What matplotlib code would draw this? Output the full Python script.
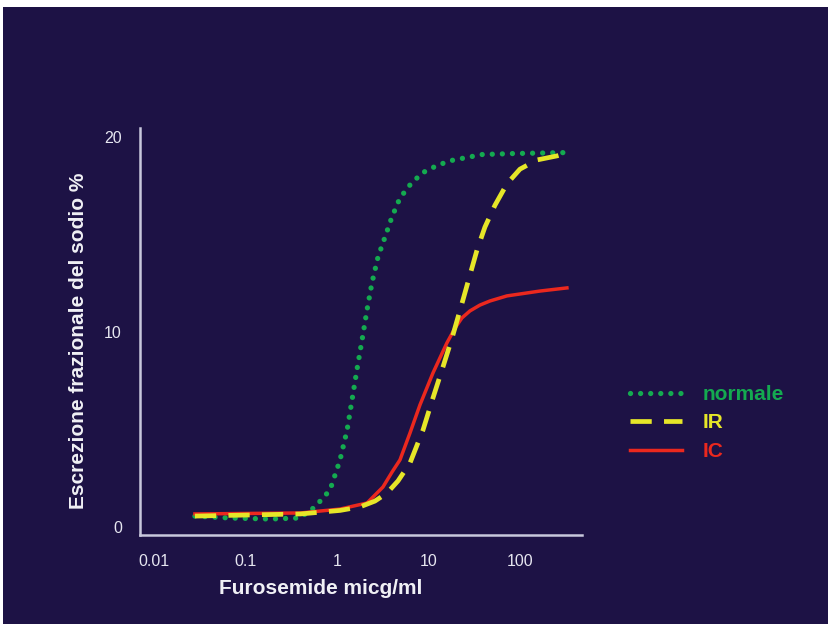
import numpy as np
import matplotlib
matplotlib.use('Agg')
import matplotlib.pyplot as plt
from matplotlib.patches import Rectangle

# values (dose in micg/ml, excretion in %)
x_normale = [0.028, 0.068, 0.185, 0.39, 0.575, 0.84, 1.08, 1.29, 1.46, 1.65, 1.88, 2.13, 2.41,
             2.81, 3.35, 3.99, 4.88, 6.28, 8.49, 12.7, 18.1, 38.5, 83.7, 325]
y_normale = [0.56, 0.46, 0.41, 0.46, 1.03, 1.90, 3.44, 4.97, 6.51, 8.05, 9.59, 11.13, 12.51,
             13.85, 14.87, 15.9, 16.87, 17.54, 18.15, 18.56, 18.8, 19.1, 19.15, 19.2]

x_ir = [0.028, 0.40, 1.08, 1.78, 2.6, 3.52, 4.64, 6.28, 8.71, 11.2, 14.4, 18.1, 23.8, 28.4,
        33.9, 41.4, 53.3, 72.1, 100, 153, 254, 326]
y_ir = [0.56, 0.67, 0.85, 1.03, 1.33, 1.74, 2.36, 3.28, 4.97, 6.62, 8.21, 9.69, 11.64, 12.92,
        14.2, 15.38, 16.5, 17.6, 18.35, 18.82, 19.03, 19.18]

x_ic = [0.028, 0.40, 1.08, 2.13, 3.18, 4.0, 4.88, 6.28, 8.07, 11.2, 15.9, 19.5, 23.2, 28.4,
        36.5, 47, 72, 166, 326]
y_ic = [0.67, 0.72, 0.92, 1.23, 2.05, 2.82, 3.44, 4.82, 6.26, 7.9, 9.44, 10.2, 10.72, 11.08,
        11.38, 11.59, 11.85, 12.1, 12.26]

xticks = [0.01, 0.1, 1, 10, 100]
xticklabels = ['0.01', '0.1', '1', '10', '100']
yticks = [0, 10, 20]

bg = '#1d1245'
c_green = '#14aa50'
c_yellow = '#e6e628'
c_red = '#eb281e'
c_axis = '#c8c8dc'

plt.rcParams['font.family'] = ['Liberation Sans', 'DejaVu Sans']

W, H = 829, 624
fig = plt.figure(figsize=(W / 100, H / 100), dpi=100)
fig.patch.set_facecolor('white')
fig.patches.append(Rectangle((3 / W, 0), 1, (H - 7) / H, transform=fig.transFigure,
                             facecolor=bg, edgecolor='none', zorder=-1))

ax = fig.add_axes([140 / W, (H - 535) / H, (582 - 140) / W, (535 - 128) / H])
ax.set_facecolor(bg)

ax.plot(x_normale, y_normale, color=c_green, lw=3.8, linestyle=(0, (0.01, 1.9)),
        dash_capstyle='round', solid_joinstyle='round', label='normale', zorder=2)
ax.plot(x_ic, y_ic, color=c_red, lw=2.5, solid_joinstyle='round', label='IC', zorder=3)
ax.plot(x_ir, y_ir, color=c_yellow, lw=3.4, linestyle=(0, (4.5, 2.6)),
        dash_capstyle='butt', label='IR', zorder=4)

ax.set_xscale('log')
ax.set_xlim(10 ** -2.153, 10 ** 2.678)
ax.set_ylim(-0.41, 20.46)
ax.set_xticks(xticks)
ax.set_xticklabels(xticklabels)
ax.minorticks_off()
ax.set_yticks(yticks)
ax.tick_params(length=0, colors='#e6e6f0', labelsize=11.5)
ax.tick_params(axis='x', pad=14)
ax.tick_params(axis='y', pad=13)

for s in ['top', 'right']:
    ax.spines[s].set_visible(False)
for s in ['left', 'bottom']:
    ax.spines[s].set_color(c_axis)
    ax.spines[s].set_linewidth(1.8)

ax.set_xlabel('Furosemide micg/ml', color='#f0f0f5', fontsize=15, fontweight='bold')
ax.set_ylabel('Escrezione frazionale del sodio %', color='#f0f0f5', fontsize=15,
              fontweight='bold')
ax.xaxis.set_label_coords((321 - 140) / 442, (535 - 579) / 407)
ax.yaxis.set_label_coords((88 - 140) / 442, (535 - 341) / 407)

h, l = ax.get_legend_handles_labels()
order = [0, 2, 1]
leg = fig.legend([h[i] for i in order], [l[i] for i in order],
                 loc='center left', bbox_to_anchor=(611 / W, (H - 423) / H),
                 frameon=False, handlelength=2.5, handletextpad=1.0, labelspacing=0.45,
                 prop={'size': 15, 'weight': 'bold'}, labelcolor='linecolor')

fig.savefig('out.png', dpi=100, facecolor=fig.get_facecolor())
